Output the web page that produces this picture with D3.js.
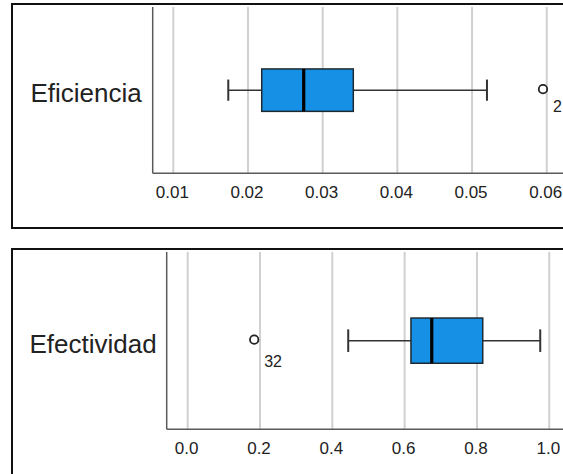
<!DOCTYPE html>
<html><head><meta charset="utf-8">
<script src="https://cdn.jsdelivr.net/npm/d3@7"></script>
<style>html,body{margin:0;padding:0;background:#fff;overflow:hidden}svg{display:block}</style>
</head><body>
<script>
// Data
const categories = ["Eficiencia", "Efectividad"];
const whiskerLow = [0.01736, 0.444];
const q1 = [0.02184, 0.6175];
const median = [0.02746, 0.675];
const q3 = [0.0341, 0.816];
const whiskerHigh = [0.0520, 0.975];
const outlierValue = [0.0595, 0.184];
const outlierLabel = ["2", "32"];
const tickValues = [[0.01, 0.02, 0.03, 0.04, 0.05, 0.06], [0.0, 0.2, 0.4, 0.6, 0.8, 1.0]];
const tickFormats = [".2f", ".1f"];
const domains = [[0.00724, 0.065], [-0.058, 1.08]];

// Layout
const W = 563, H = 474;
const panels = [
  {frame: {x: 12, y: 4, h: 224}, left: 152.7, top: 7, bottom: 173.3, pxPerUnit: 7468, labelGap: 11, outDy: 22},
  {frame: {x: 12, y: 249, h: 240}, left: 166.7, top: 252, bottom: 429.3, pxPerUnit: 361.6, labelGap: 10, outDy: 26}
];

const svg = d3.select("body").append("svg").attr("width", W).attr("height", H);
const font = "'Liberation Sans', Arial, sans-serif";

panels.forEach((p, i) => {
  const g = svg.append("g");
  // frame
  g.append("rect").attr("x", p.frame.x).attr("y", p.frame.y)
    .attr("width", W + 20 - p.frame.x).attr("height", p.frame.h)
    .attr("fill", "none").attr("stroke", "#111").attr("stroke-width", 2);

  const d = domains[i];
  const x = d3.scaleLinear().domain(d).range([p.left, p.left + (d[1] - d[0]) * p.pxPerUnit]);
  const y = d3.scaleBand().domain([categories[i]]).range([p.top, p.bottom]);
  const yc = y(categories[i]) + y.bandwidth() / 2;
  const ph = p.bottom - p.top;
  const bh = ph * 0.255;
  const ch = bh * 0.5;

  // gridlines
  g.selectAll(".grid").data(tickValues[i]).enter().append("line")
    .attr("x1", v => x(v)).attr("x2", v => x(v))
    .attr("y1", p.top).attr("y2", p.bottom)
    .attr("stroke", "#d0d0d0").attr("stroke-width", 2);

  // axes lines
  g.append("line").attr("x1", p.left).attr("x2", p.left).attr("y1", p.top).attr("y2", p.bottom)
    .attr("stroke", "#5a5a5a").attr("stroke-width", 1.5);
  g.append("line").attr("x1", p.left).attr("x2", W + 20).attr("y1", p.bottom).attr("y2", p.bottom)
    .attr("stroke", "#5a5a5a").attr("stroke-width", 1.5);

  // x axis tick labels via d3.axisBottom
  const ax = g.append("g").attr("transform", `translate(0,${p.bottom})`)
    .call(d3.axisBottom(x).tickValues(tickValues[i]).tickFormat(d3.format(tickFormats[i])).tickSize(0).tickPadding(13));
  ax.select(".domain").remove();
  ax.selectAll("text").attr("font-family", font).attr("font-size", 17).attr("fill", "#222").attr("dx", -1.5);

  // category label
  g.append("text").attr("x", p.left - p.labelGap).attr("y", yc + 12)
    .attr("text-anchor", "end").attr("font-family", font).attr("font-size", 26).attr("fill", "#222")
    .text(categories[i]);

  // whiskers
  g.append("line").attr("x1", x(whiskerLow[i])).attr("x2", x(q1[i])).attr("y1", yc).attr("y2", yc)
    .attr("stroke", "#333").attr("stroke-width", 1.5);
  g.append("line").attr("x1", x(q3[i])).attr("x2", x(whiskerHigh[i])).attr("y1", yc).attr("y2", yc)
    .attr("stroke", "#333").attr("stroke-width", 1.5);
  [whiskerLow[i], whiskerHigh[i]].forEach(v => {
    g.append("line").attr("x1", x(v)).attr("x2", x(v)).attr("y1", yc - ch / 2).attr("y2", yc + ch / 2)
      .attr("stroke", "#333").attr("stroke-width", 2);
  });
  // box
  g.append("rect").attr("x", x(q1[i])).attr("y", yc - bh / 2)
    .attr("width", x(q3[i]) - x(q1[i])).attr("height", bh)
    .attr("fill", "#1590e4").attr("stroke", "#1e2a33").attr("stroke-width", 1.5);
  g.append("line").attr("x1", x(median[i])).attr("x2", x(median[i]))
    .attr("y1", yc - bh / 2).attr("y2", yc + bh / 2)
    .attr("stroke", "#000").attr("stroke-width", 3.2);

  // outlier
  g.append("circle").attr("cx", x(outlierValue[i])).attr("cy", yc - 1).attr("r", 4.2)
    .attr("fill", "#fff").attr("stroke", "#222").attr("stroke-width", 1.8);
  g.append("text").attr("x", x(outlierValue[i]) + 10).attr("y", yc + p.outDy)
    .attr("font-family", font).attr("font-size", 16).attr("fill", "#222")
    .text(outlierLabel[i]);
});
</script>
</body></html>
